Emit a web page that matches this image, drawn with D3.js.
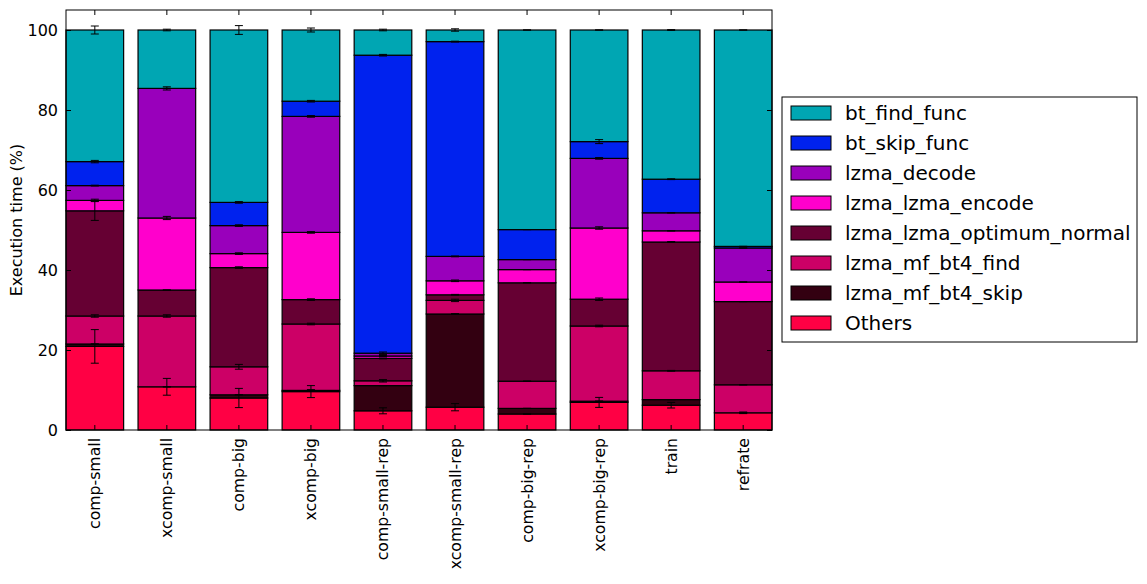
<!DOCTYPE html>
<html>

<head>
  <title>Execution time breakdown</title>
  <style>
    body { margin: 0; background: #fff; }
    text { font-family: "DejaVu Sans", sans-serif; }
  </style>
</head>

<body>
  <svg id="svg"></svg>

  <script src="https://d3js.org/d3.v7.min.js"></script>
  <script>
    // benchmarks along the x axis
    let categories = ["comp-small", "xcomp-small", "comp-big", "xcomp-big", "comp-small-rep",
      "xcomp-small-rep", "comp-big-rep", "xcomp-big-rep", "train", "refrate"];

    // functions, bottom of the stack first
    let seriesNames = ["Others", "lzma_mf_bt4_skip", "lzma_mf_bt4_find", "lzma_lzma_optimum_normal",
      "lzma_lzma_encode", "lzma_decode", "bt_skip_func", "bt_find_func"];

    // share of execution time (%) per category
    let others = [20.9, 10.8, 8.0, 9.6, 4.8, 5.7, 4.0, 6.9, 6.2, 4.3];
    let bt4Skip = [0.6, 0.0, 0.8, 0.3, 6.3, 23.3, 1.4, 0.3, 1.4, 0.0];
    let bt4Find = [7.0, 17.7, 7.0, 16.6, 1.2, 3.4, 6.8, 18.8, 7.2, 7.0];
    let optimum = [26.3, 6.5, 24.8, 6.1, 5.6, 1.4, 24.6, 6.7, 32.2, 20.8];
    let encode = [2.6, 18.0, 3.5, 16.8, 0.6, 3.5, 3.3, 17.8, 2.8, 4.9];
    let decode = [3.7, 32.4, 7.0, 29.0, 0.7, 6.1, 2.5, 17.4, 4.5, 8.5];
    let btSkip = [6.0, 0.0, 5.8, 3.8, 74.5, 53.7, 7.5, 4.2, 8.4, 0.4];
    let btFind = [32.9, 14.6, 43.1, 17.8, 6.3, 2.9, 49.9, 27.9, 37.3, 54.1];

    // error bar half-widths (%)
    let othersErr = [4.2, 2.1, 2.4, 1.5, 0.75, 0.9, 0.0, 1.25, 0.7, 0.2];
    let bt4SkipErr = [0.0, 0.0, 0.0, 0.2, 0.0, 0.1, 0.0, 0.0, 0.0, 0.0];
    let bt4FindErr = [0.3, 0.3, 0.6, 0.2, 0.3, 0.3, 0.0, 0.2, 0.1, 0.0];
    let optimumErr = [2.4, 0.0, 0.2, 0.2, 0.1, 0.1, 0.0, 0.3, 0.1, 0.0];
    let encodeErr = [0.3, 0.4, 0.2, 0.2, 0.1, 0.2, 0.0, 0.3, 0.0, 0.0];
    let decodeErr = [0.1, 0.4, 0.2, 0.2, 0.3, 0.1, 0.0, 0.2, 0.0, 0.0];
    let btSkipErr = [0.3, 0.0, 0.2, 0.2, 0.2, 0.1, 0.0, 0.5, 0.1, 0.0];
    let btFindErr = [1.0, 0.2, 1.1, 0.5, 0.2, 0.3, 0.0, 0.0, 0.1, 0.0];

    let yTicks = [0, 20, 40, 60, 80, 100];

    let values = [others, bt4Skip, bt4Find, optimum, encode, decode, btSkip, btFind];
    let errors = [othersErr, bt4SkipErr, bt4FindErr, optimumErr, encodeErr, decodeErr, btSkipErr, btFindErr];
    let colors = ["#ff0044", "#330011", "#cc0066", "#660033", "#ff00cc", "#9900bb", "#0022ee", "#00a6b3"];

    let margin = { top: 10, left: 66 };
    let width = 706, height = 420;

    let table = categories.map((c, i) => {
      let row = { cat: c };
      seriesNames.forEach((s, k) => row[s] = values[k][i]);
      return row;
    });
    let stacked = d3.stack().keys(seriesNames)(table);

    let svg = d3.select("#svg").attr("width", 1147).attr("height", 584);
    let g = svg.append("g").attr("transform", `translate(${margin.left},${margin.top})`);

    let x = d3.scaleBand().domain(categories).range([0, width]).paddingInner(0.2).paddingOuter(0);
    let y = d3.scaleLinear().domain([0, 105]).range([height, 0]);
    let color = d3.scaleOrdinal().domain(seriesNames).range(colors);

    // stacked bars
    g.selectAll("g.layer")
      .data(stacked)
      .join("g")
      .attr("class", "layer")
      .attr("fill", d => color(d.key))
      .selectAll("rect")
      .data(d => d)
      .join("rect")
      .attr("x", d => x(d.data.cat))
      .attr("y", d => y(d[1]))
      .attr("width", x.bandwidth())
      .attr("height", d => y(d[0]) - y(d[1]))
      .attr("stroke", "#000")
      .attr("stroke-width", 1.2);

    // error bars at the top of each segment
    let capHalf = 4;
    stacked.forEach((layer, k) => {
      layer.forEach((d, i) => {
        let cx = x(d.data.cat) + x.bandwidth() / 2;
        let e = errors[k][i];
        let eb = g.append("g").attr("stroke", "#000").attr("stroke-width", 1);
        eb.append("line").attr("x1", cx).attr("x2", cx).attr("y1", y(d[1] - e)).attr("y2", y(d[1] + e));
        eb.append("line").attr("x1", cx - capHalf).attr("x2", cx + capHalf).attr("y1", y(d[1] + e)).attr("y2", y(d[1] + e));
        eb.append("line").attr("x1", cx - capHalf).attr("x2", cx + capHalf).attr("y1", y(d[1] - e)).attr("y2", y(d[1] - e));
      });
    });

    // axes (ticks inward, matplotlib classic look)
    let yAxis = g.append("g")
      .call(d3.axisLeft(y).tickValues(yTicks).tickSizeInner(-5).tickSizeOuter(0).tickPadding(8));
    g.append("g")
      .attr("transform", `translate(${width},0)`)
      .call(d3.axisRight(y).tickValues(yTicks).tickSizeInner(-5).tickSizeOuter(0).tickFormat(""));
    let xAxis = g.append("g")
      .attr("transform", `translate(0,${height})`)
      .call(d3.axisBottom(x).tickSizeInner(-5).tickSizeOuter(0));
    g.append("g")
      .call(d3.axisTop(x).tickSizeInner(-5).tickSizeOuter(0).tickFormat(""));
    g.selectAll(".domain").remove();

    yAxis.selectAll("text").attr("font-size", 16).attr("font-family", "DejaVu Sans").attr("fill", "#000");
    xAxis.selectAll("text")
      .attr("font-size", 15.7)
      .attr("font-family", "DejaVu Sans")
      .attr("fill", "#000")
      .attr("transform", "rotate(-90)")
      .attr("text-anchor", "end")
      .attr("dy", "0.35em")
      .attr("x", -8)
      .attr("y", 0);

    g.append("rect")
      .attr("width", width).attr("height", height)
      .attr("fill", "none").attr("stroke", "#000").attr("stroke-width", 1);

    svg.append("text")
      .attr("transform", `translate(22,${margin.top + height / 2}) rotate(-90)`)
      .attr("text-anchor", "middle")
      .attr("font-size", 16)
      .text("Execution time (%)");

    // legend
    let legend = svg.append("g").attr("transform", "translate(782,97)");
    legend.append("rect")
      .attr("width", 355).attr("height", 245)
      .attr("fill", "#fff").attr("stroke", "#000").attr("stroke-width", 1);
    let legendItems = seriesNames.slice().reverse();
    let item = legend.selectAll("g.item")
      .data(legendItems)
      .join("g")
      .attr("class", "item")
      .attr("transform", (d, i) => `translate(9,${9 + i * 30})`);
    item.append("rect")
      .attr("width", 40).attr("height", 14)
      .attr("fill", d => color(d))
      .attr("stroke", "#000").attr("stroke-width", 1);
    item.append("text")
      .attr("x", 54).attr("y", 7)
      .attr("dy", "0.35em")
      .attr("font-size", 20)
      .text(d => d);
  </script>
</body>

</html>
